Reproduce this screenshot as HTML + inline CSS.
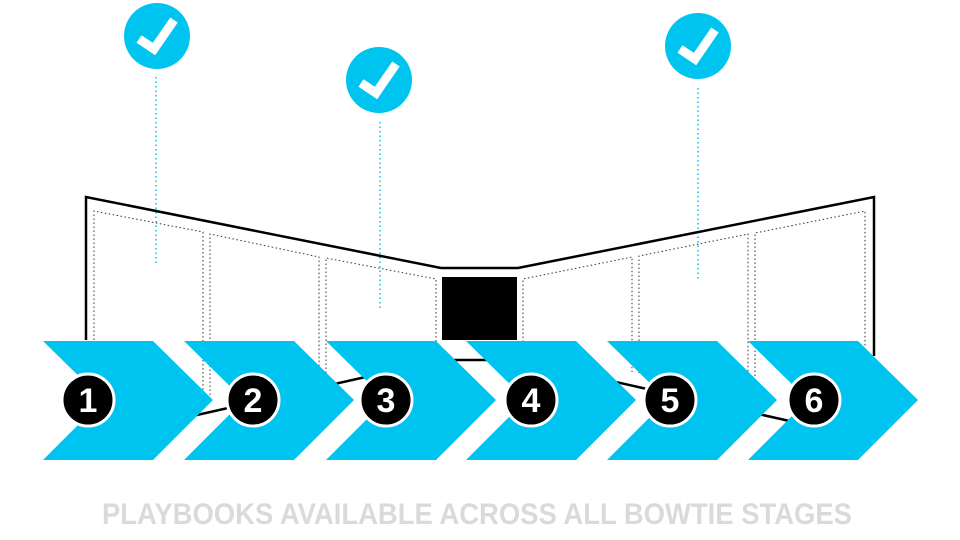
<!DOCTYPE html>
<html><head><meta charset="utf-8"><style>
html,body{margin:0;padding:0;background:#fff;width:960px;height:540px;overflow:hidden}
svg{display:block}
</style></head><body>
<svg width="960" height="540" viewBox="0 0 960 540" xmlns="http://www.w3.org/2000/svg">
<g stroke="#00c4f0" stroke-width="1.5" stroke-dasharray="1.5 3">
<line x1="156" y1="77" x2="156" y2="266"/>
<line x1="380" y1="122" x2="380" y2="310"/>
<line x1="698" y1="88" x2="698" y2="281"/>
</g>
<path d="M86,340 L86,197 L441,268 L518,268 L874,197 L874,356" fill="none" stroke="#000" stroke-width="2.5"/>
<path d="M86,440 L441,360 L518,360 L874,440" fill="none" stroke="#000" stroke-width="2.5"/>
<g fill="none" stroke="#333" stroke-width="1" stroke-dasharray="1.5 2.5">
<path d="M94,400 L94,211 L203,232 L203,396"/>
<path d="M210,395 L210,234 L319,257 L319,371"/>
<path d="M326,373 L326,258 L436,279 L436,350"/>
<path d="M523,350 L523,279 L632,257 L632,372"/>
<path d="M639,373 L639,256 L748,234 L748,396"/>
<path d="M755,396 L755,233 L865,211 L865,400"/>
</g>
<rect x="442" y="277" width="75" height="63" fill="#000"/>
<g fill="#00c4f0">
<polygon points="43,341 153,341 213,400 153,460 43,460 103,400"/>
<polygon points="184,341 294,341 354,400 294,460 184,460 244,400"/>
<polygon points="326,341 436,341 496,400 436,460 326,460 386,400"/>
<polygon points="466,341 576,341 636,400 576,460 466,460 526,400"/>
<polygon points="607,341 717,341 777,400 717,460 607,460 667,400"/>
<polygon points="748,341 858,341 918,400 858,460 748,460 808,400"/>
</g>
<g stroke="#fff" stroke-width="3" fill="#000">
<circle cx="88" cy="400" r="26"/>
<circle cx="253" cy="400" r="26"/>
<circle cx="386" cy="400" r="26"/>
<circle cx="531" cy="400" r="26"/>
<circle cx="670" cy="400" r="26"/>
<circle cx="814" cy="400" r="26"/>
</g>
<g fill="#fff" font-family="Liberation Sans, sans-serif" font-weight="bold" font-size="34" text-anchor="middle">
<text x="88" y="412">1</text>
<text x="253" y="412">2</text>
<text x="386" y="412">3</text>
<text x="531" y="412">4</text>
<text x="670" y="412">5</text>
<text x="814" y="412">6</text>
</g>
<g fill="#00c4f0">
<circle cx="157" cy="36" r="33"/>
<circle cx="379" cy="80" r="33"/>
<circle cx="698" cy="46" r="33"/>
</g>
<g fill="none" stroke="#fff" stroke-width="9" stroke-linecap="butt" stroke-linejoin="miter">
<polyline points="139,39 154,49 174,20"/>
<polyline points="361,83 376,93 396,64"/>
<polyline points="680,49 695,59 715,30"/>
</g>
<text x="102" y="524" textLength="750" lengthAdjust="spacingAndGlyphs" fill="#dadada" font-family="Liberation Sans, sans-serif" font-weight="bold" font-size="30">PLAYBOOKS AVAILABLE ACROSS ALL BOWTIE STAGES</text>
</svg>
</body></html>
